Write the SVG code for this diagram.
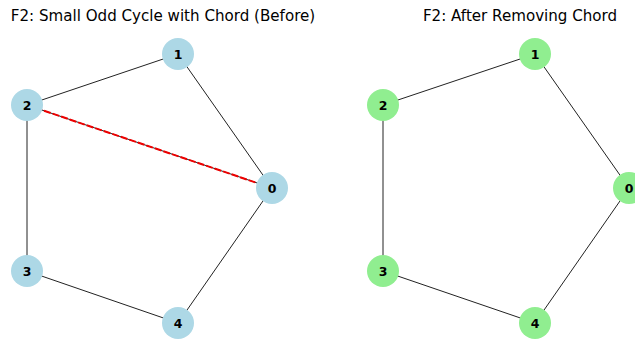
<svg xmlns="http://www.w3.org/2000/svg" width="635" height="340" viewBox="0 0 635 340">
<style>
.t{font-family:"DejaVu Sans",sans-serif;font-size:15.1px;fill:#000;text-anchor:middle}
.e{stroke:#222;stroke-width:1;fill:none}
.ch{stroke:#e00;stroke-width:2;stroke-dasharray:7,2;fill:none}
.b{fill:#add8e6}
.g{fill:#90ee90}
.l{font-family:"DejaVu Sans",sans-serif;font-size:12.5px;font-weight:bold;fill:#000;text-anchor:middle;dominant-baseline:central}
</style>
<rect width="635" height="340" fill="#fff"/>
<text class="t" x="163" y="21">F2: Small Odd Cycle with Chord (Before)</text>
<text class="t" x="520" y="21">F2: After Removing Chord</text>
<g id="connectors">
<line class="e" x1="178" y1="54" x2="27" y2="105"/>
<line class="e" x1="178" y1="54" x2="272" y2="188"/>
<line class="e" x1="27" y1="105" x2="27" y2="271"/>
<line class="e" x1="27" y1="271" x2="178" y2="323"/>
<line class="e" x1="178" y1="323" x2="272" y2="188"/>
<line class="e" x1="27" y1="105" x2="272" y2="188"/>
<line class="ch" x1="27" y1="105" x2="272" y2="188"/>
<line class="e" x1="535" y1="54" x2="383" y2="105"/>
<line class="e" x1="535" y1="54" x2="629" y2="188"/>
<line class="e" x1="383" y1="105" x2="383" y2="271"/>
<line class="e" x1="383" y1="271" x2="535" y2="323"/>
<line class="e" x1="535" y1="323" x2="629" y2="188"/>
</g>
<g id="L0"><circle class="b" cx="272" cy="188" r="16"/><text class="l" x="272" y="188">0</text></g>
<g id="L1"><circle class="b" cx="178" cy="54" r="16"/><text class="l" x="178" y="54">1</text></g>
<g id="L2"><circle class="b" cx="27" cy="105" r="16"/><text class="l" x="27" y="105">2</text></g>
<g id="L3"><circle class="b" cx="27" cy="271" r="16"/><text class="l" x="27" y="271">3</text></g>
<g id="L4"><circle class="b" cx="178" cy="323" r="16"/><text class="l" x="178" y="323">4</text></g>
<g id="R0"><circle class="g" cx="629" cy="188" r="16"/><text class="l" x="629" y="188">0</text></g>
<g id="R1"><circle class="g" cx="535" cy="54" r="16"/><text class="l" x="535" y="54">1</text></g>
<g id="R2"><circle class="g" cx="383" cy="105" r="16"/><text class="l" x="383" y="105">2</text></g>
<g id="R3"><circle class="g" cx="383" cy="271" r="16"/><text class="l" x="383" y="271">3</text></g>
<g id="R4"><circle class="g" cx="535" cy="323" r="16"/><text class="l" x="535" y="323">4</text></g>
</svg>
